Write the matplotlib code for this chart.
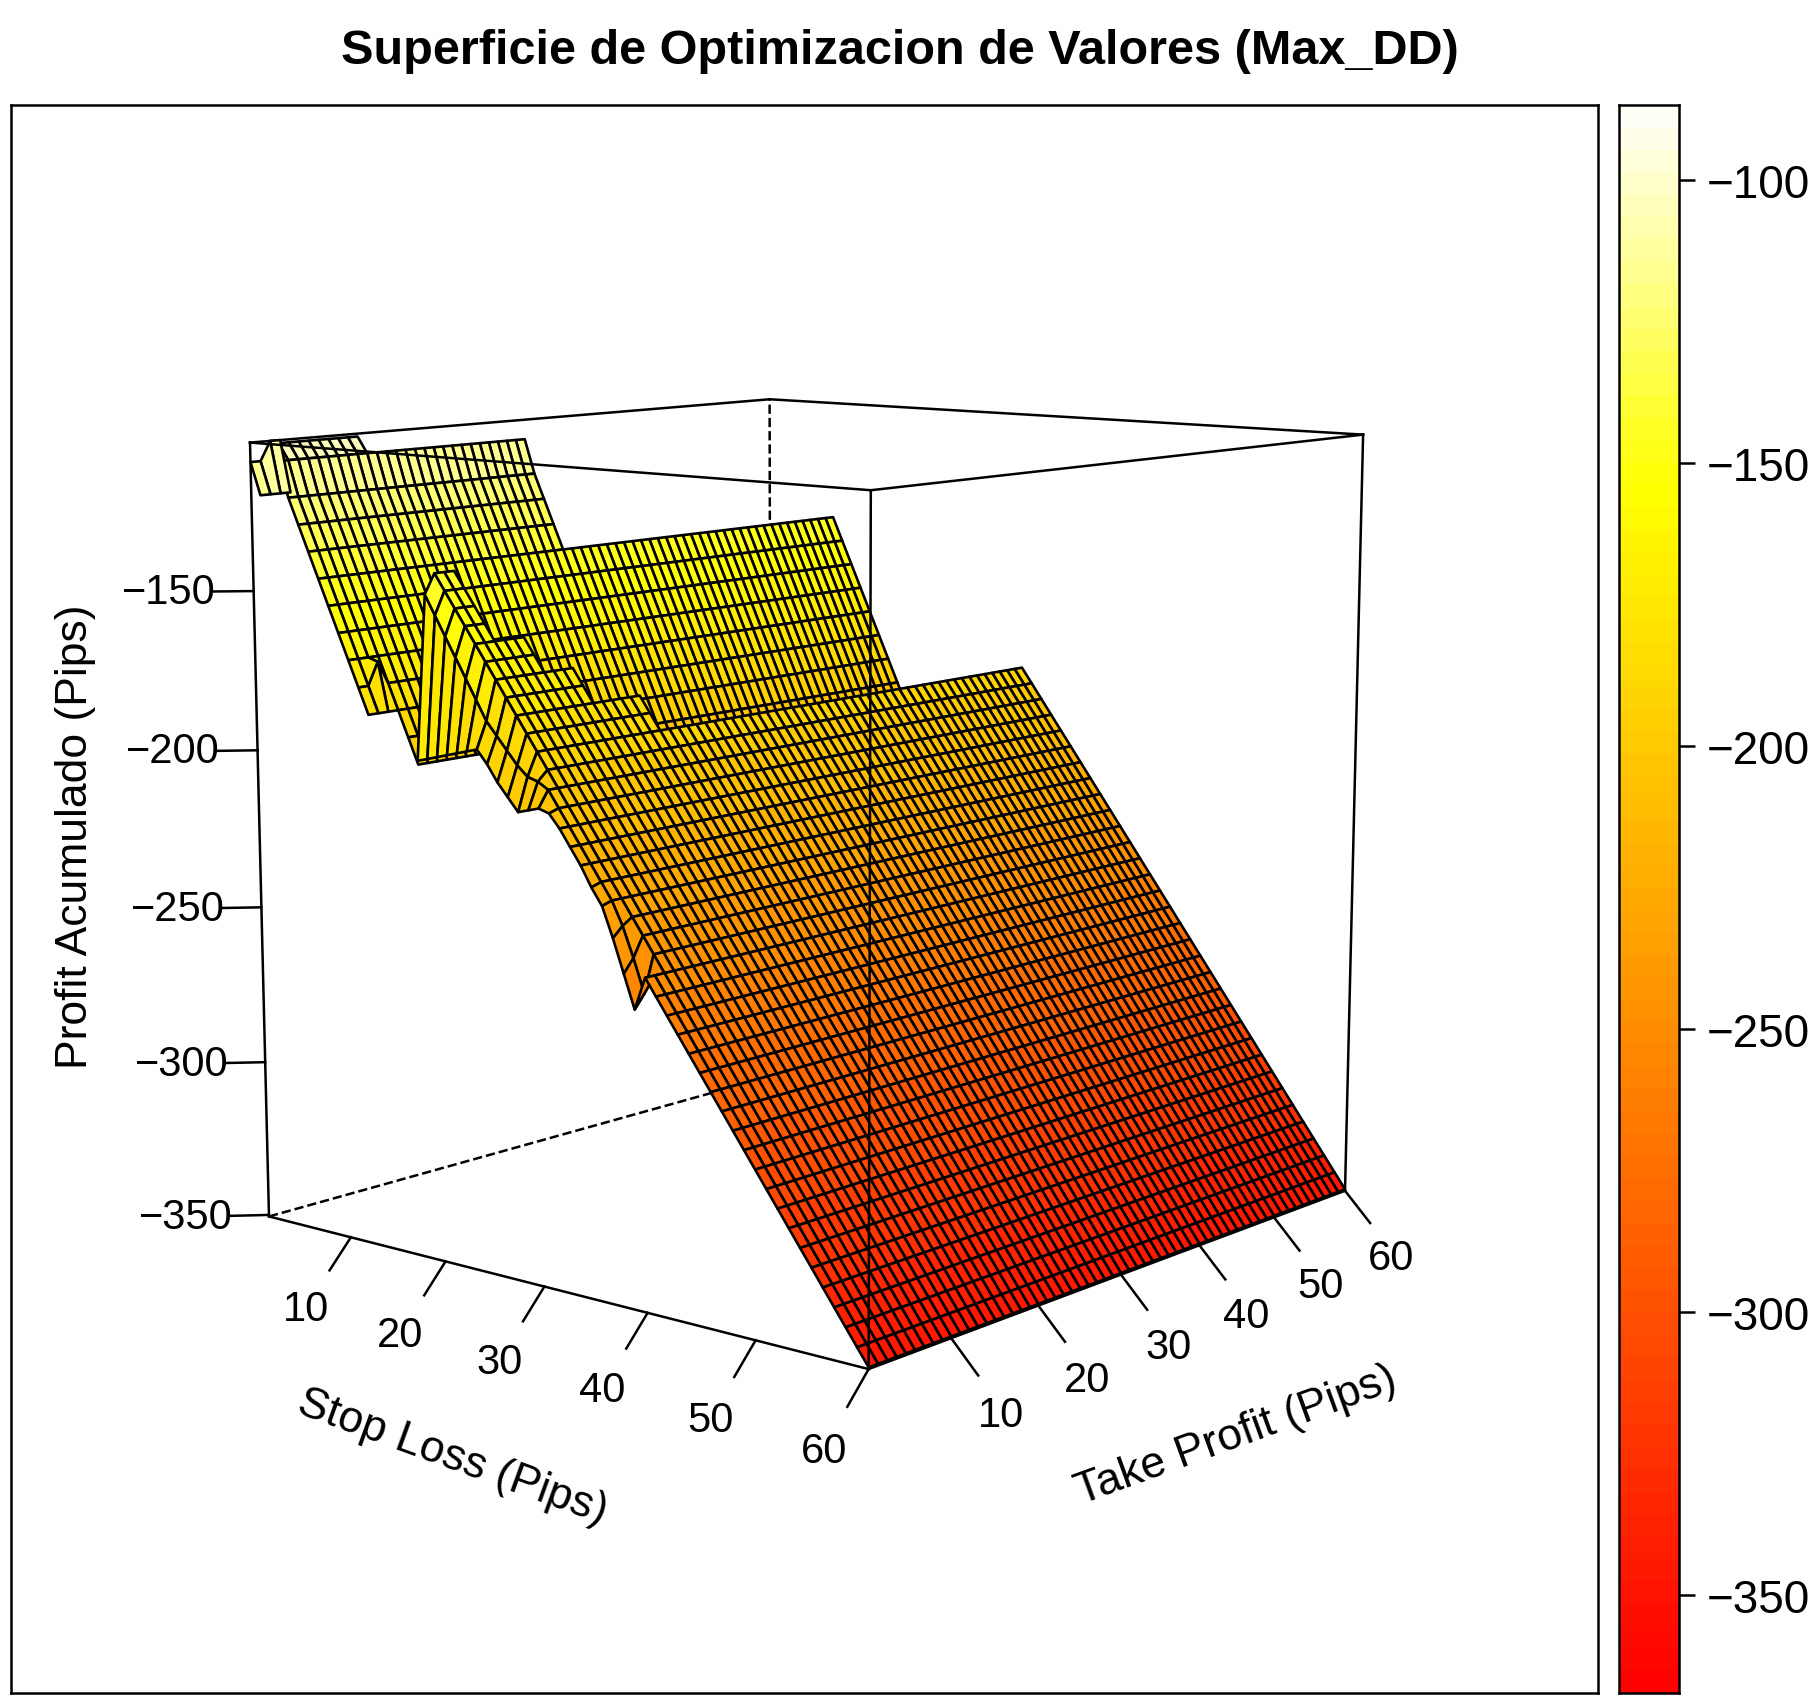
import numpy as np
import matplotlib
matplotlib.use('Agg')
import matplotlib.pyplot as plt
from matplotlib.colors import ListedColormap, Normalize
from mpl_toolkits.mplot3d import proj3d
from mpl_toolkits.mplot3d.art3d import Poly3DCollection

plt.rcParams['font.family'] = ['Liberation Sans', 'DejaVu Sans']

# Values
tp_values = list(range(1, 61))

# rear sheet: stop loss rows and their level
upper_sl = [3, 4, 5, 6, 7, 8, 9, 10, 11, 12, 13, 14, 15, 16]
upper_z = [-104, -109, -120, -128, -136, -144, -152, -160, -168, -176, -184, -192, -200, -208]
upper_first_sl = [3] * 10 + [4] * 17 + [8] * 33
upper_last_sl = [13] * 3 + [15] * 13 + [16] * 44

# main sheet
main_sl = list(range(18, 61))
main_z = [-140, -145, -150, -155, -160, -165, -170, -175, -180, -185, -190,
          -195, -200, -205, -210, -215, -220, -225, -230, -235, -240, -245,
          -250, -255, -260, -265, -270, -275, -280, -285, -290, -295, -300,
          -305, -310, -315, -320, -325, -330, -335, -340, -345, -350]
main_first_sl = [18] * 5 + [22] * 3 + [24] * 3 + [26] * 5 + [28] * 44

# the first take profit columns drop below the main sheet
tp1_z = [-196, -195, -194, -193, -192, -191, -190, -194, -199, -203, -207, -206,
         -205, -206, -210, -215, -220, -226, -231, -240, -250, -260, -250, -255]
tp2_z = [-146, -152, -158, -164, -170, -176, -182, -186, -190, -194, -197, -198,
         -200, -205, -210, -215, -220, -225, -230, -237, -246, -256]

# small spike at the far corner
spike_sl = [1, 2]
spike_tp = [1, 2, 3, 4]
spike_z = [[-110, -110, -104, -104],
           [-120, -120, -120, -120]]
tooth_z = -169  # stop loss 12, take profit 3

sl_ticks = [10, 20, 30, 40, 50, 60]
tp_ticks = [10, 20, 30, 40, 50, 60]
z_ticks = [-150, -200, -250, -300, -350]
key_ticks = [-100, -150, -200, -250, -300, -350]
sl_lim = (1, 60)
tp_lim = (1, 60)
z_lim = (-350.5, -104)
key_lim = (-367.3, -86.8)


def heat_colors(n):
    # same ramp as R heat.colors
    j = n // 4
    i = n - j
    first = [(1, k / (i - 1), 0) for k in range(i)]
    s = np.linspace(1 - 1 / (2 * j), 1 / (2 * j), j)
    return first + [(1, 1, 1 - v) for v in s]


cmap = ListedColormap(heat_colors(71))
norm = Normalize(*key_lim)


def cell_polys(sl, tp, z):
    polys, cols = [], []
    for i in range(len(sl) - 1):
        for j in range(len(tp) - 1):
            zz = [z[i][j], z[i][j + 1], z[i + 1][j + 1], z[i + 1][j]]
            if np.isnan(zz).any():
                continue
            polys.append([(sl[i], tp[j], zz[0]), (sl[i], tp[j + 1], zz[1]),
                          (sl[i + 1], tp[j + 1], zz[2]), (sl[i + 1], tp[j], zz[3])])
            cols.append(cmap(norm(np.mean(zz))))
    return polys, cols


z_up = np.full((len(upper_sl), len(tp_values)), np.nan)
for j in range(len(tp_values)):
    for i, s in enumerate(upper_sl):
        if upper_first_sl[j] <= s <= upper_last_sl[j]:
            z_up[i, j] = upper_z[i]
z_up[upper_sl.index(12), 2] = tooth_z

z_main = np.full((len(main_sl), len(tp_values)), np.nan)
for j in range(len(tp_values)):
    for i, s in enumerate(main_sl):
        if s >= main_first_sl[j]:
            z_main[i, j] = main_z[i]
z_main[:len(tp1_z), 0] = tp1_z
z_main[:len(tp2_z), 1] = tp2_z

fig = plt.figure(figsize=(18.18, 16.99), dpi=100)
W, H = 1818.0, 1699.0
lw_box = 1.8

# panel frame
ax_frame = fig.add_axes([10.5 / W, 1 - 1693.7 / H, (1598.3 - 10.5) / W, (1693.7 - 106.3) / H])
ax_frame.set_xticks([])
ax_frame.set_yticks([])
for sp in ax_frame.spines.values():
    sp.set_linewidth(lw_box)

# surface
L = 1306.0
cx, cy = 813.3, 828.5
ax = fig.add_axes([(cx - 0.5135 * L) / W, (H - cy - 0.5135 * L) / H, L / W, L / H],
                  projection='3d', computed_zorder=False)
ax.set_axis_off()
ax.set_box_aspect((1, 1, 1))
ax.set_proj_type('persp', focal_length=0.57)
ax.view_init(elev=10.1, azim=-50.1)
ax.set_xlim(*sl_lim, view_margin=0)
ax.set_ylim(*tp_lim, view_margin=0)
ax.set_zlim(*z_lim, view_margin=0)

x0, x1 = sl_lim
y0, y1 = tp_lim
z0, z1 = z_lim

# hidden edges first
for a, b in [((x0, y1, z0), (x1, y1, z0)), ((x0, y0, z0), (x0, y1, z0)), ((x0, y1, z0), (x0, y1, z1))]:
    ax.plot(*zip(a, b), color='k', lw=lw_box, ls='--', zorder=1)
for a, b in [((x0, y0, z1), (x0, y1, z1)), ((x0, y1, z1), (x1, y1, z1))]:
    ax.plot(*zip(a, b), color='k', lw=lw_box, zorder=1)

for sheet, zo in [((upper_sl, tp_values, z_up), 2), ((main_sl, tp_values, z_main), 3),
                  ((spike_sl, spike_tp, spike_z), 4)]:
    polys, cols = cell_polys(*sheet)
    coll = Poly3DCollection(polys, facecolors=cols, edgecolors='k', linewidths=1.9, zorder=zo)
    ax.add_collection3d(coll)

# front edges on top
for a, b in [((x0, y0, z1), (x1, y0, z1)), ((x1, y0, z1), (x1, y1, z1)),
             ((x0, y0, z0), (x1, y0, z0)), ((x1, y0, z0), (x1, y1, z0)),
             ((x0, y0, z0), (x0, y0, z1)), ((x1, y0, z0), (x1, y0, z1)),
             ((x1, y1, z0), (x1, y1, z1))]:
    ax.plot(*zip(a, b), color='k', lw=lw_box, zorder=5)


def label3d(x, y, z, s):
    px, py, _ = proj3d.proj_transform(x, y, z, ax.get_proj())
    ax.text2D(px, py, s, transform=ax.transData, fontsize=30, ha='center', va='center')


dx, dy, dz = x1 - x0, y1 - y0, z1 - z0
for s in sl_ticks:
    ax.plot([s, s], [y0, y0 - 0.038 * dy], [z0, z0 - 0.035 * dz], color='k', lw=lw_box, zorder=5)
    label3d(s, y0 - 0.08 * dy, z0 - 0.076 * dz, str(s))
for t in tp_ticks:
    ax.plot([x1, x1 + 0.04 * dx], [t, t], [z0, z0 - 0.037 * dz], color='k', lw=lw_box, zorder=5)
    label3d(x1 + 0.073 * dx, t, z0 - 0.078 * dz, str(t))
for v in z_ticks:
    ax.plot([x0, x0 - 0.036 * dx], [y0, y0 - 0.036 * dy], [v, v], color='k', lw=lw_box, zorder=5)
    label3d(x0 - 0.075 * dx, y0 - 0.075 * dy, v, '\u2212%d' % abs(v))

# colour key
ax_key = fig.add_axes([1619.3 / W, 1 - 1693.7 / H, (1679.3 - 1619.3) / W, (1693.7 - 106.3) / H])
levels = np.linspace(key_lim[0], key_lim[1], cmap.N + 1)
ax_key.pcolormesh([0, 1], levels, ((levels[:-1] + levels[1:]) / 2)[:, None], cmap=cmap, norm=norm)
ax_key.set_xticks([])
ax_key.yaxis.tick_right()
ax_key.set_yticks(key_ticks)
ax_key.set_yticklabels(['\u2212%d' % abs(v) for v in key_ticks], fontsize=33)
ax_key.tick_params(axis='y', length=11.5, width=lw_box, pad=8)
ax_key.set_ylim(*key_lim)
for sp in ax_key.spines.values():
    sp.set_linewidth(lw_box)

fig.text(900 / W, 1 - 52 / H, 'Superficie de Optimizacion de Valores (Max_DD)', fontsize=35,
         fontweight='bold', ha='center', va='center')
fig.text(452 / W, 1 - 1458 / H, 'Stop Loss (Pips)', fontsize=32, rotation=-20, ha='center', va='center')
fig.text(1236 / W, 1 - 1436 / H, 'Take Profit (Pips)', fontsize=32, rotation=20, ha='center', va='center')
fig.text(76 / W, 1 - 837 / H, 'Profit Acumulado (Pips)', fontsize=32, rotation=90, ha='center', va='center')

fig.savefig('out.png', dpi=100)
